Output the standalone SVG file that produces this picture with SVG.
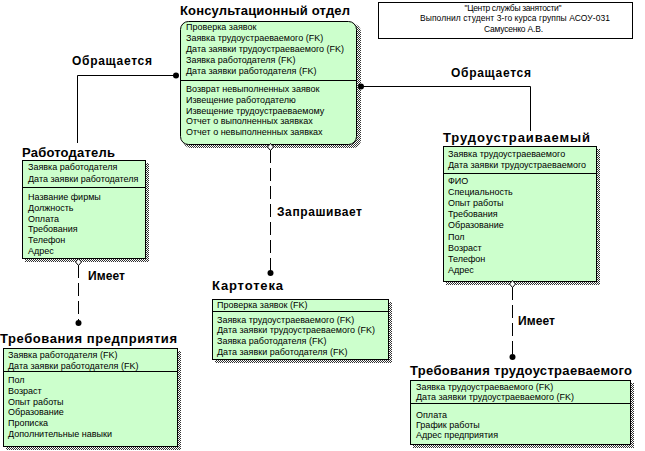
<svg xmlns="http://www.w3.org/2000/svg" width="645" height="451" viewBox="0 0 645 451">
<defs>
<pattern id="dither" width="2" height="2" patternUnits="userSpaceOnUse">
<rect width="2" height="2" fill="#ffffff"/>
<rect width="1" height="1" fill="#333333"/>
<rect x="1" y="1" width="1" height="1" fill="#333333"/>
</pattern>
<style>
.box{fill:#ccffcc;stroke:#000;stroke-width:1}
.shadow{fill:url(#dither)}
.div{stroke:#000;stroke-width:1}
.title{font-family:"Liberation Sans",Arial,sans-serif;font-size:13px;font-weight:bold;fill:#000}
.lbl{font-family:"Liberation Sans",Arial,sans-serif;font-size:12px;font-weight:bold;fill:#000}
.row{font-family:"Liberation Sans",Arial,sans-serif;font-size:9px;fill:#000}
.hdr{font-family:"Liberation Sans",Arial,sans-serif;font-size:8.5px;fill:#000}
.line{fill:none;stroke:#000;stroke-width:1}
.dash{fill:none;stroke:#000;stroke-width:1;stroke-dasharray:13 5}
.dot{fill:#000}
.dia{fill:#fff;stroke:#000;stroke-width:1}
</style>
</defs>
<rect width="645" height="451" fill="#ffffff"/>

<g id="header">
<rect x="378.5" y="2.5" width="254" height="36" fill="#fff" stroke="#000"/>
<text class="hdr" x="513" y="10.5" text-anchor="middle" textLength="97" lengthAdjust="spacing">"Центр службы занятости"</text>
<text class="hdr" x="515" y="21" text-anchor="middle" textLength="190" lengthAdjust="spacing">Выполнил студент 3-го курса группы АСОУ-031</text>
<text class="hdr" x="513.5" y="31.5" text-anchor="middle" textLength="59" lengthAdjust="spacing">Самусенко А.В.</text>
</g>

<g id="konsult">
<text class="title" x="180" y="15" textLength="170" lengthAdjust="spacing">Консультационный отдел</text>
<rect class="shadow" x="183" y="24" width="178" height="124" rx="8"/>
<rect class="box" x="180.5" y="21.5" width="176" height="123" rx="8"/>
<line class="div" x1="180.5" y1="80.5" x2="356.5" y2="80.5"/>
<text class="row" x="186" y="30">Проверка заявок</text>
<text class="row" x="186" y="41">Заявка трудоустраеваемого (FK)</text>
<text class="row" x="186" y="52">Дата заявки трудоустраеваемого (FK)</text>
<text class="row" x="186" y="63">Заявка работодателя (FK)</text>
<text class="row" x="186" y="74">Дата заявки работодателя (FK)</text>
<text class="row" x="186" y="92">Возврат невыполненных заявок</text>
<text class="row" x="186" y="102.8">Извещение работодателю</text>
<text class="row" x="186" y="113.6">Извещение трудоустраеваемому</text>
<text class="row" x="186" y="124.4">Отчет о выполненных заявках</text>
<text class="row" x="186" y="135.2">Отчет о невыполненных заявках</text>
</g>

<g id="rabotodatel">
<text class="title" x="22" y="157" textLength="93" lengthAdjust="spacing">Работодатель</text>
<rect class="shadow" x="25" y="163" width="124" height="99"/>
<rect class="box" x="22.5" y="160.5" width="123" height="98"/>
<line class="div" x1="22.5" y1="187.5" x2="145.5" y2="187.5"/>
<text class="row" x="28" y="170">Заявка работодателя</text>
<text class="row" x="28" y="181.5">Дата заявки работодателя</text>
<text class="row" x="28" y="200">Название фирмы</text>
<text class="row" x="28" y="210.8">Должность</text>
<text class="row" x="28" y="221.6">Оплата</text>
<text class="row" x="28" y="232.4">Требования</text>
<text class="row" x="28" y="243.2">Телефон</text>
<text class="row" x="28" y="254">Адрес</text>
</g>

<g id="trudoustr">
<text class="title" x="443" y="142" textLength="147" lengthAdjust="spacing">Трудоустраиваемый</text>
<rect class="shadow" x="446" y="149" width="154" height="136"/>
<rect class="box" x="443.5" y="146.5" width="153" height="135"/>
<line class="div" x1="443.5" y1="173.5" x2="596.5" y2="173.5"/>
<text class="row" x="448" y="156.5">Заявка трудоустраеваемого</text>
<text class="row" x="448" y="167.5">Дата заявки трудоустраеваемого</text>
<text class="row" x="448" y="184">ФИО</text>
<text class="row" x="448" y="195.1">Специальность</text>
<text class="row" x="448" y="206.2">Опыт работы</text>
<text class="row" x="448" y="217.3">Требования</text>
<text class="row" x="448" y="228.4">Образование</text>
<text class="row" x="448" y="239.5">Пол</text>
<text class="row" x="448" y="250.6">Возраст</text>
<text class="row" x="448" y="261.7">Телефон</text>
<text class="row" x="448" y="272.8">Адрес</text>
</g>

<g id="kartoteka">
<text class="title" x="212" y="290" textLength="71" lengthAdjust="spacing">Картотека</text>
<rect class="shadow" x="215" y="302" width="177" height="61"/>
<rect class="box" x="212.5" y="299.5" width="176" height="60"/>
<line class="div" x1="212.5" y1="311.5" x2="388.5" y2="311.5"/>
<text class="row" x="217" y="307.5">Проверка заявок (FK)</text>
<text class="row" x="217" y="322.5">Заявка трудоустраеваемого (FK)</text>
<text class="row" x="217" y="333.3">Дата заявки трудоустраеваемого (FK)</text>
<text class="row" x="217" y="344.1">Заявка работодателя (FK)</text>
<text class="row" x="217" y="354.9">Дата заявки работодателя (FK)</text>
</g>

<g id="treb_pred">
<text class="title" x="0" y="343" textLength="177" lengthAdjust="spacing">Требования предприятия</text>
<rect class="shadow" x="6" y="351" width="175" height="99"/>
<rect class="box" x="3.5" y="348.5" width="174" height="98"/>
<line class="div" x1="3.5" y1="371.5" x2="177.5" y2="371.5"/>
<text class="row" x="8" y="358">Заявка работодателя (FK)</text>
<text class="row" x="8" y="368.5">Дата заявки работодателя (FK)</text>
<text class="row" x="8" y="383">Пол</text>
<text class="row" x="8" y="393.8">Возраст</text>
<text class="row" x="8" y="404.6">Опыт работы</text>
<text class="row" x="8" y="415.4">Образование</text>
<text class="row" x="8" y="426.2">Прописка</text>
<text class="row" x="8" y="437">Дополнительные навыки</text>
</g>

<g id="treb_trud">
<text class="title" x="410" y="375" textLength="222" lengthAdjust="spacing">Требования трудоустраеваемого</text>
<rect class="shadow" x="413" y="383" width="221" height="65"/>
<rect class="box" x="410.5" y="380.5" width="220" height="64"/>
<line class="div" x1="410.5" y1="403.5" x2="630.5" y2="403.5"/>
<text class="row" x="416" y="390">Заявка трудоустраеваемого (FK)</text>
<text class="row" x="416" y="400">Дата заявки трудоустраеваемого (FK)</text>
<text class="row" x="416" y="418">Оплата</text>
<text class="row" x="416" y="428">График работы</text>
<text class="row" x="416" y="438">Адрес предприятия</text>
</g>

<g id="connectors">
<path class="line" d="M176,75.5 H77.5 V143"/>
<circle class="dot" cx="176" cy="75.5" r="3"/>
<path class="line" d="M361,86.5 H530.5 V131"/>
<circle class="dot" cx="361" cy="86.5" r="3"/>
<path class="dash" d="M270.5,150 V273"/>
<circle class="dot" cx="270.5" cy="273" r="3"/>
<path class="dia" d="M270.5,143.5 L273.5,147 L270.5,150.5 L267.5,147 Z"/>
<path class="dash" d="M78.5,265 V323"/>
<circle class="dot" cx="78.5" cy="323" r="3"/>
<path class="dia" d="M78.5,258.5 L81.5,262 L78.5,265.5 L75.5,262 Z"/>
<path class="dash" d="M512.5,287 V357"/>
<circle class="dot" cx="512.5" cy="357" r="3"/>
<path class="dia" d="M512.5,280.5 L515.5,284 L512.5,287.5 L509.5,284 Z"/>
<text class="lbl" x="72" y="65" textLength="80" lengthAdjust="spacing">Обращается</text>
<text class="lbl" x="451" y="77" textLength="80" lengthAdjust="spacing">Обращается</text>
<text class="lbl" x="277" y="216" textLength="85" lengthAdjust="spacing">Запрашивает</text>
<text class="lbl" x="88" y="280" textLength="37" lengthAdjust="spacing">Имеет</text>
<text class="lbl" x="518" y="325" textLength="37" lengthAdjust="spacing">Имеет</text>
</g>
</svg>
